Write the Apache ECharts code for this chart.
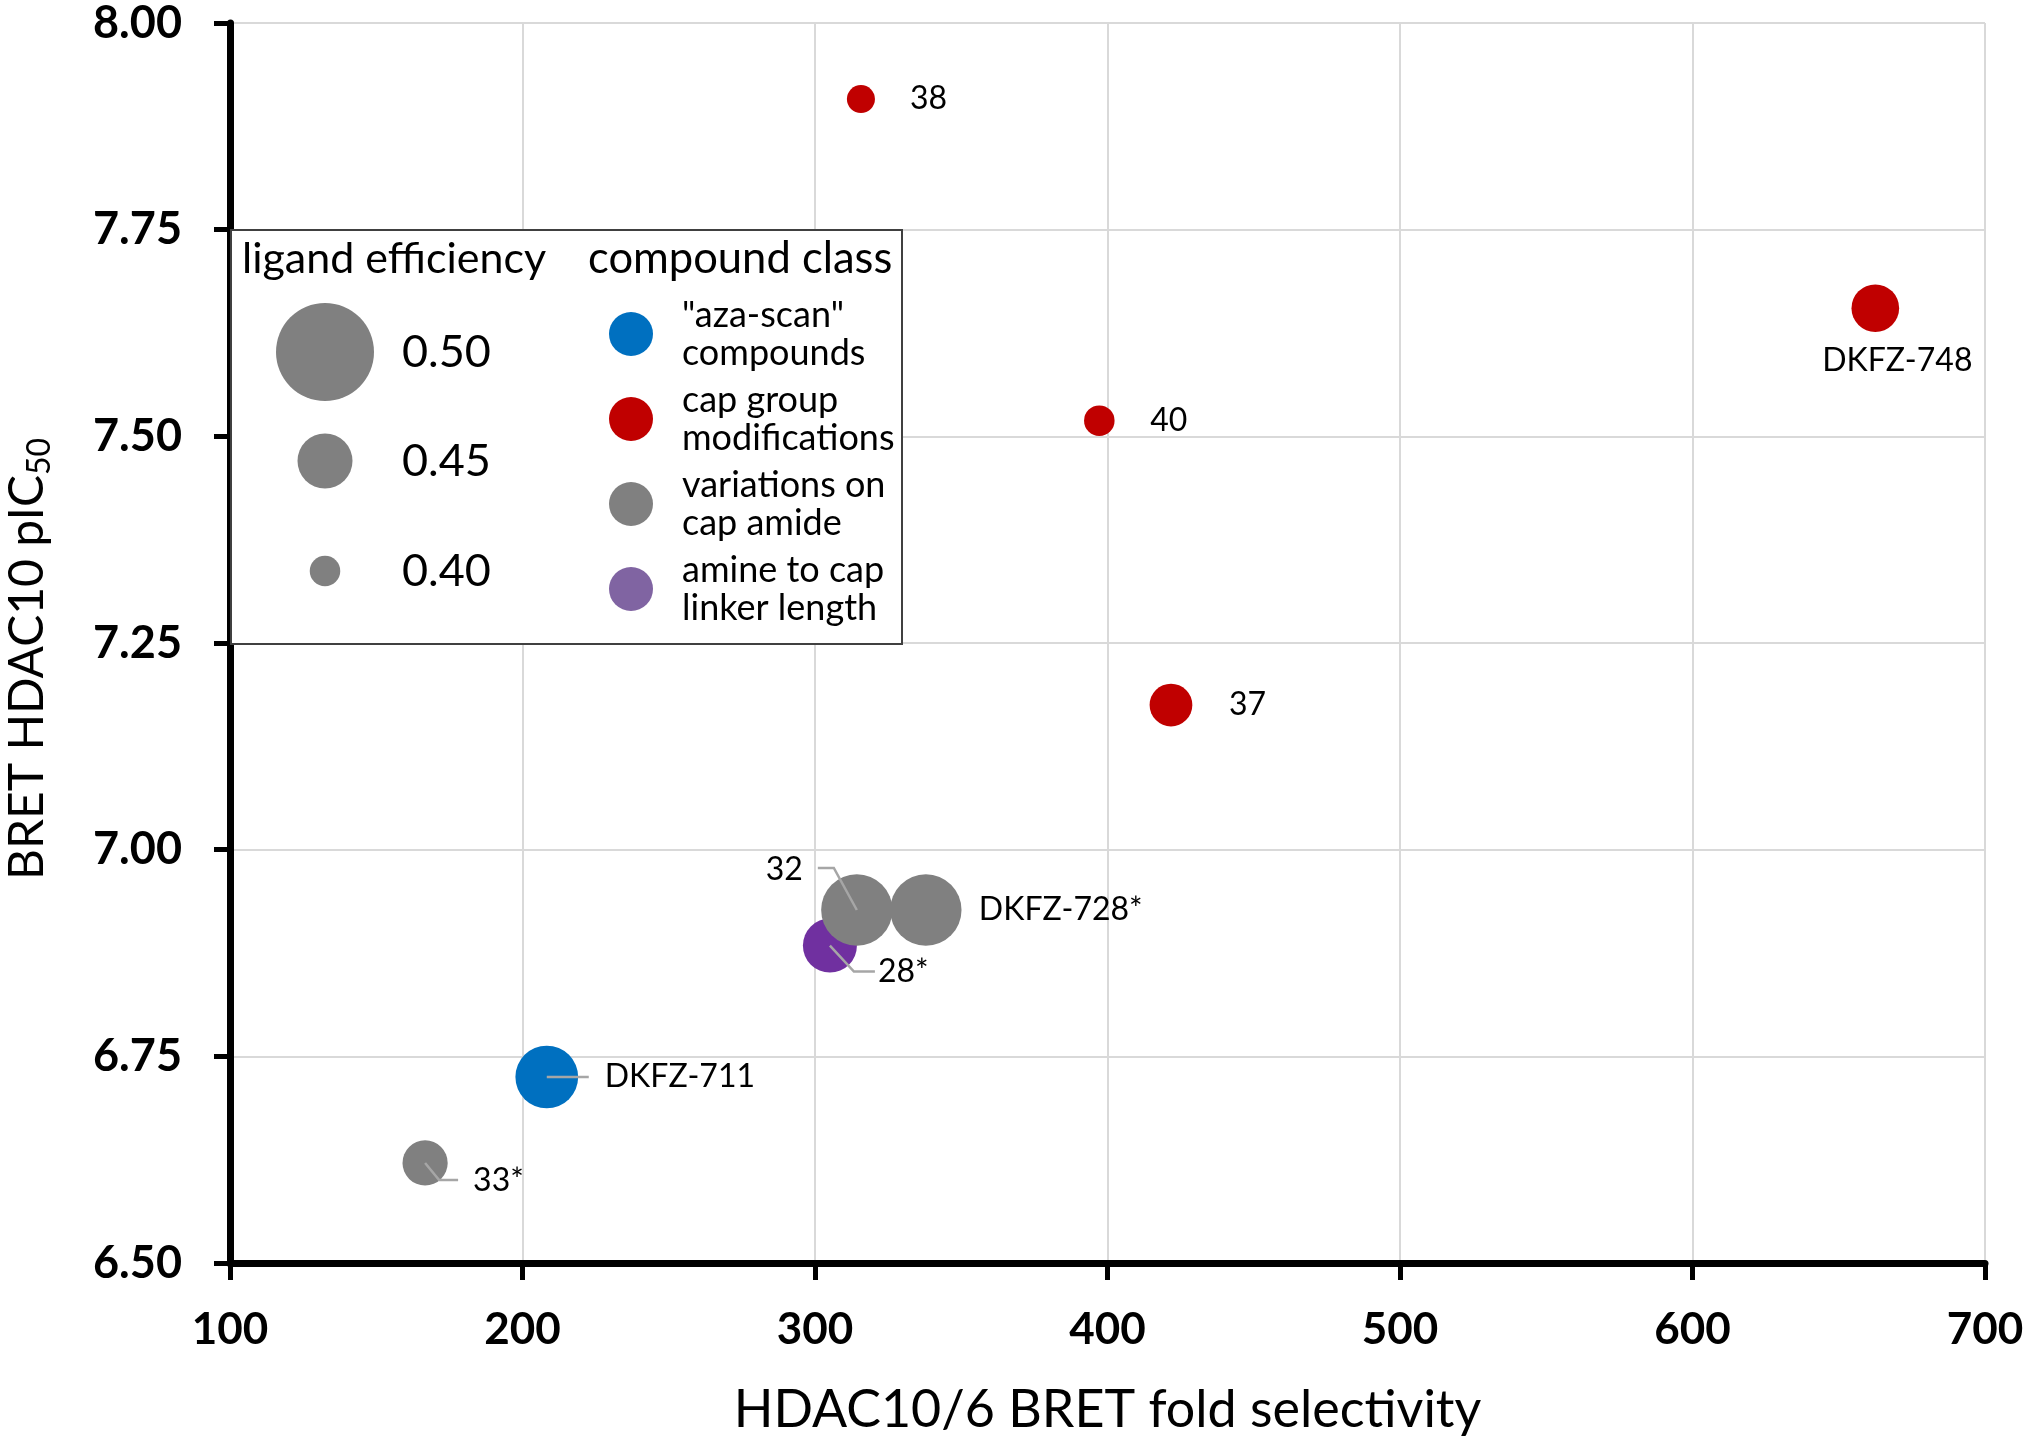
<!DOCTYPE html>
<html>
<head>
<meta charset="utf-8">
<script src="https://cdn.jsdelivr.net/npm/echarts@6/dist/echarts.min.js"></script>
<style>
  html, body { margin: 0; padding: 0; background: #ffffff; }
  #chart { width: 2031px; height: 1446px; }
</style>
</head>
<body>
<div id="chart"></div>
<script>
// ---------------- data ----------------
const compounds        = ['38', 'DKFZ-748', '40', '37', '32', 'DKFZ-728*', '28*', 'DKFZ-711', '33*'];
const foldSelectivity  = [315.7, 662.5, 397.2, 421.7, 314.3, 337.9, 305.1, 208.3, 166.7];
const pIC50            = [7.908, 7.655, 7.519, 7.175, 6.927, 6.927, 6.884, 6.725, 6.621];
const ligandEfficiency = [0.395, 0.435, 0.400, 0.425, 0.469, 0.469, 0.448, 0.459, 0.430];
const compoundClass    = ['cap', 'cap', 'cap', 'cap', 'amide', 'amide', 'linker', 'aza', 'amide'];

const classKeys   = ['aza', 'cap', 'amide', 'linker'];
const classNames  = ['"aza-scan"\ncompounds', 'cap group\nmodifications', 'variations on\ncap amide', 'amine to cap\nlinker length'];
const leLegendValues = [0.50, 0.45, 0.40];
const leLegendLabels = ['0.50', '0.45', '0.40'];
const xTicks = [100, 200, 300, 400, 500, 600, 700];
const yTicks = ['6.50', '6.75', '7.00', '7.25', '7.50', '7.75', '8.00'];

// ---------------- styles ----------------
const classColor = { aza: '#0070C0', cap: '#C00000', amide: '#808080', linker: '#7030A0' };
const legendColor = { aza: '#0070C0', cap: '#C00000', amide: '#808080', linker: '#8064A2' };
const FONT = 'Lato';

// bubble diameter (px) anchored at the legend's ligand-efficiency values
const sizeAnchorsLE = [0.40, 0.45, 0.50];
const sizeAnchorsPx = [30.5, 55, 98];
function bubbleSize(le) {
  let i = le <= sizeAnchorsLE[1] ? 0 : 1;
  const t = (le - sizeAnchorsLE[i]) / (sizeAnchorsLE[i + 1] - sizeAnchorsLE[i]);
  return sizeAnchorsPx[i] + t * (sizeAnchorsPx[i + 1] - sizeAnchorsPx[i]);
}

// label placement (pixel offsets relative to the bubble centre) and leader lines
const labelPlacement = {
  '38':        { dx: 49, dy: 0,   align: 'left' },
  'DKFZ-748':  { dx: 22, dy: 52,  align: 'center' },
  '40':        { dx: 51, dy: 0,   align: 'left' },
  '37':        { dx: 58, dy: 0,   align: 'left' },
  '32':        { dx: -54, dy: -40, align: 'right', line: [[0, 0], [-23, -42], [-39, -42]] },
  'DKFZ-728*': { dx: 53, dy: 0,   align: 'left' },
  '28*':       { dx: 48, dy: 26,  align: 'left', line: [[0, 0], [24, 26], [45, 26]] },
  'DKFZ-711':  { dx: 58, dy: 0,   align: 'left', line: [[0, 0], [42, 0]] },
  '33*':       { dx: 48, dy: 18,  align: 'left', line: [[0, 0], [14, 17], [33, 17]] }
};

// ---------------- build ----------------
const seriesOrder = ['linker', 'cap', 'aza', 'amide'];
const scatterSeries = seriesOrder.map(function (key) {
  const data = [];
  compounds.forEach(function (c, i) {
    if (compoundClass[i] === key) data.push([foldSelectivity[i], pIC50[i], ligandEfficiency[i], c]);
  });
  return {
    type: 'scatter',
    name: classNames[classKeys.indexOf(key)],
    data: data,
    symbol: 'circle',
    symbolSize: function (v) { return bubbleSize(v[2]); },
    itemStyle: { color: classColor[key], opacity: 1 },
    emphasis: { disabled: true },
    z: 2
  };
});

const labelSeries = {
  type: 'custom',
  data: compounds.map(function (c, i) { return [foldSelectivity[i], pIC50[i]]; }),
  z: 5,
  silent: true,
  renderItem: function (params, api) {
    const name = compounds[params.dataIndex];
    const lay = labelPlacement[name];
    const p = api.coord([api.value(0), api.value(1)]);
    const children = [];
    if (lay.line) {
      children.push({
        type: 'polyline',
        shape: { points: lay.line.map(function (o) { return [p[0] + o[0], p[1] + o[1]]; }) },
        style: { stroke: '#A6A6A6', lineWidth: 2.5, fill: null }
      });
    }
    children.push({
      type: 'text',
      x: p[0] + lay.dx, y: p[1] + lay.dy,
      style: { text: name, fill: '#000', fontFamily: FONT, fontSize: 32, align: lay.align, verticalAlign: 'middle' }
    });
    return { type: 'group', children: children };
  }
};

const chart = echarts.init(document.getElementById('chart'), null, { renderer: 'canvas' });

// legend box + size legend drawn as graphic elements
const graphics = [
  { type: 'rect', shape: { x: 231, y: 230, width: 671, height: 414 }, style: { fill: '#fff', stroke: '#404040', lineWidth: 2 }, z: 3 },
  { type: 'text', x: 242, y: 259, style: { text: 'ligand efficiency', fontFamily: FONT, fontSize: 43, fill: '#000', verticalAlign: 'middle' }, z: 4 },
  { type: 'text', x: 588, y: 259, style: { text: 'compound class', fontFamily: FONT, fontSize: 43.5, fill: '#000', verticalAlign: 'middle' }, z: 4 }
];
const sizeRowY = [352, 461, 571];
leLegendValues.forEach(function (v, i) {
  graphics.push({ type: 'circle', shape: { cx: 325, cy: sizeRowY[i], r: bubbleSize(v) / 2 }, style: { fill: '#808080' }, z: 4 });
  graphics.push({ type: 'text', x: 402, y: sizeRowY[i], style: { text: leLegendLabels[i], fontFamily: FONT, fontSize: 45, fill: '#000', verticalAlign: 'middle' }, z: 4 });
});

const option = {
  backgroundColor: '#ffffff',
  animation: false,
  grid: { left: 230, right: 46, top: 23, bottom: 183, containLabel: false, outerBoundsMode: 'none' },
  xAxis: {
    type: 'value', min: 100, max: 700, interval: 100,
    name: 'HDAC10/6 BRET fold selectivity',
    nameLocation: 'middle', nameGap: 121,
    nameTextStyle: { fontFamily: FONT, fontSize: 52, color: '#000' },
    axisLine: { show: true, onZero: false, lineStyle: { color: '#000', width: 7 } },
    axisTick: { show: true, inside: false, length: 17, lineStyle: { color: '#000', width: 5 } },
    axisLabel: { fontFamily: FONT, fontWeight: 'bold', fontSize: 44, color: '#000', margin: 45,
                 formatter: function (v) { return xTicks.indexOf(v) >= 0 ? String(v) : ''; } },
    splitLine: { show: true, lineStyle: { color: '#D9D9D9', width: 2 } }
  },
  yAxis: {
    type: 'value', min: 6.5, max: 8, interval: 0.25,
    name: 'BRET HDAC10 pIC{sub|50}',
    nameLocation: 'middle', nameGap: 174, nameRotate: 90,
    nameTextStyle: {
      fontFamily: FONT, fontSize: 48, color: '#000', padding: [0, 32, 0, 0],
      rich: { sub: { fontFamily: FONT, fontSize: 32, color: '#000', padding: [24, 0, 0, 0], verticalAlign: 'top' } }
    },
    axisLine: { show: true, onZero: false, lineStyle: { color: '#000', width: 7 } },
    axisTick: { show: true, inside: false, length: 16, lineStyle: { color: '#000', width: 5 } },
    axisLabel: { fontFamily: FONT, fontWeight: 'bold', fontSize: 45, color: '#000', margin: 48,
                 formatter: function (v) { const s = v.toFixed(2); return yTicks.indexOf(s) >= 0 ? s : ''; } },
    splitLine: { show: true, lineStyle: { color: '#D9D9D9', width: 2 } }
  },
  legend: {
    show: true, orient: 'vertical', left: 609, top: 296, padding: 0, itemGap: 9,
    itemWidth: 44, itemHeight: 44, icon: 'circle', selectedMode: false, z: 10,
    data: classKeys.map(function (k, i) { return { name: classNames[i], itemStyle: { color: legendColor[k] } }; }),
    textStyle: { fontFamily: FONT, fontSize: 36, lineHeight: 38, color: '#000', padding: [0, 0, 0, 24] }
  },
  graphic: graphics,
  series: scatterSeries.concat([labelSeries])
};
chart.setOption(option);
</script>
</body>
</html>
